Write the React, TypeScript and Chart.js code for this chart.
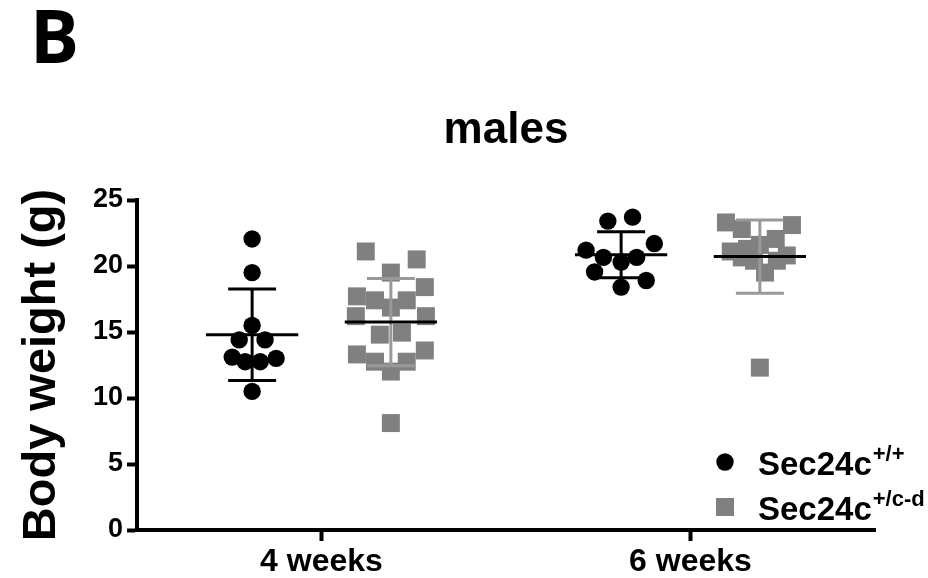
import React, { useEffect, useRef } from 'react';
import { Chart, registerables } from 'chart.js';

Chart.register(...registerables);

// ---------- data ----------
const categories = ['4 weeks', '6 weeks'];
const seriesNames = ['Sec24c', 'Sec24c'];
const seriesSup = ['+/+', '+/c-d'];
const yTickValues = [0, 5, 10, 15, 20, 25];

// Sec24c +/+ , 4 weeks
const wt4w = [22.05, 19.5, 15.5, 14.4, 14.4, 13.1, 12.75, 12.75, 13.0, 10.5];
const wt4wJitter = [0, 0, 0, -0.035, 0.035, -0.054, -0.019, 0.022, 0.065, 0];
// Sec24c +/c-d , 4 weeks
const het4w = [21.1, 20.5, 19.5, 17.7, 18.4, 17.4, 17.4, 16.85, 16.2, 16.2, 14.8, 14.95, 13.3, 13.6, 12.75, 12.75, 12.0, 8.1];
const het4wJitter = [-0.068, 0.07, 0, -0.092, 0.092, -0.043, 0.043, 0, -0.095, 0.095, -0.03, 0.03, -0.092, 0.092, -0.043, 0.043, 0, 0];
// Sec24c +/+ , 6 weeks
const wt6w = [23.4, 23.7, 21.2, 21.7, 20.65, 20.3, 20.65, 19.55, 18.9, 18.4];
const wt6wJitter = [-0.036, 0.031, -0.095, 0.09, -0.048, 0, 0.042, -0.072, 0.068, 0];
// Sec24c +/c-d , 6 weeks
const het6w = [23.3, 23.1, 22.8, 22.05, 21.6, 21.1, 21.3, 20.8, 20.65, 20.4, 20.4, 19.5, 12.3];
const het6wJitter = [-0.092, 0.087, -0.049, 0.043, 0, -0.079, -0.035, 0.073, -0.049, -0.016, 0.046, 0.014, 0];

// ---------- styling ----------
const FONT = '"Liberation Sans", Arial, Helvetica, sans-serif';
const BLACK = '#000000';
const GREY = '#808080';
const GREY_BAR = '#999999';
const GROUP_OFFSET = 0.188;
const MEAN_HALF = 0.125;
const CAP_HALF = 0.065;

type Group = { cat: number; side: number; values: number[]; jitter: number[]; barColor: string };

const wtGroups: Group[] = [
  { cat: 1, side: -1, values: wt4w, jitter: wt4wJitter, barColor: BLACK },
  { cat: 2, side: -1, values: wt6w, jitter: wt6wJitter, barColor: BLACK },
];
const hetGroups: Group[] = [
  { cat: 1, side: 1, values: het4w, jitter: het4wJitter, barColor: GREY_BAR },
  { cat: 2, side: 1, values: het6w, jitter: het6wJitter, barColor: GREY_BAR },
];

const toPoints = (gs: Group[]) =>
  gs.flatMap((g) => g.values.map((v, i) => ({ x: g.cat + g.side * GROUP_OFFSET + g.jitter[i], y: v })));

const mean = (a: number[]) => a.reduce((s, v) => s + v, 0) / a.length;
const sd = (a: number[]) => {
  const m = mean(a);
  return Math.sqrt(a.reduce((s, v) => s + (v - m) * (v - m), 0) / (a.length - 1));
};

const overlayPlugin = {
  id: 'overlay',
  afterDatasetsDraw(chart: any) {
    const { ctx, scales } = chart;
    const x = scales.x;
    const y = scales.y;
    ctx.save();
    ctx.lineCap = 'butt';
    [...wtGroups, ...hetGroups].forEach((g) => {
      const c = g.cat + g.side * GROUP_OFFSET;
      const m = mean(g.values);
      const s = sd(g.values);
      const cx = x.getPixelForValue(c);
      const yTop = y.getPixelForValue(m + s);
      const yBot = y.getPixelForValue(m - s);
      const capL = x.getPixelForValue(c - CAP_HALF);
      const capR = x.getPixelForValue(c + CAP_HALF);
      ctx.strokeStyle = g.barColor;
      ctx.lineWidth = 3;
      ctx.beginPath();
      ctx.moveTo(cx, yTop);
      ctx.lineTo(cx, yBot);
      ctx.moveTo(capL, yTop);
      ctx.lineTo(capR, yTop);
      ctx.moveTo(capL, yBot);
      ctx.lineTo(capR, yBot);
      ctx.stroke();
      const ym = y.getPixelForValue(m);
      ctx.strokeStyle = BLACK;
      ctx.lineWidth = 3;
      ctx.beginPath();
      ctx.moveTo(x.getPixelForValue(c - MEAN_HALF), ym);
      ctx.lineTo(x.getPixelForValue(c + MEAN_HALF), ym);
      ctx.stroke();
    });
    ctx.restore();
  },
  afterDraw(chart: any) {
    const { ctx, chartArea } = chart;
    ctx.save();
    // panel letter
    ctx.fillStyle = BLACK;
    ctx.textAlign = 'left';
    ctx.textBaseline = 'alphabetic';
    ctx.font = `bold 73px "Open Sans", Lato, sans-serif`;
    ctx.fillText('B', 30, 63);
    // title
    ctx.textAlign = 'center';
    ctx.font = `bold 44px ${FONT}`;
    ctx.fillText('males', (chartArea.left + chartArea.right) / 2, 143);
    // legend
    const mx = chartArea.right - 150;
    const rows = [chartArea.bottom - 68, chartArea.bottom - 23];
    rows.forEach((ry, i) => {
      ctx.fillStyle = i === 0 ? BLACK : GREY;
      if (i === 0) {
        ctx.beginPath();
        ctx.arc(mx, ry, 8.7, 0, Math.PI * 2);
        ctx.fill();
      } else {
        ctx.fillRect(mx - 9, ry - 9, 18, 18);
      }
      ctx.fillStyle = BLACK;
      ctx.textAlign = 'left';
      ctx.font = `bold 33px ${FONT}`;
      const tx = mx + 33;
      const by = ry + 13;
      ctx.fillText(seriesNames[i], tx, by);
      const w = ctx.measureText(seriesNames[i]).width;
      ctx.font = `bold 22px ${FONT}`;
      ctx.fillText(seriesSup[i], tx + w + 1, by - 14);
    });
    ctx.restore();
  },
};

export default function App() {
  const ref = useRef<HTMLCanvasElement | null>(null);
  useEffect(() => {
    if (!ref.current) return;
    const chart = new Chart(ref.current, {
      type: 'scatter',
      data: {
        datasets: [
          {
            label: seriesNames[0] + seriesSup[0],
            data: toPoints(wtGroups),
            pointStyle: 'circle',
            pointRadius: 8.7,
            pointBorderWidth: 0,
            backgroundColor: BLACK,
            borderColor: BLACK,
          },
          {
            label: seriesNames[1] + seriesSup[1],
            data: toPoints(hetGroups),
            pointStyle: 'rect',
            pointRadius: 12.7,
            pointBorderWidth: 0,
            backgroundColor: GREY,
            borderColor: GREY,
          },
        ],
      },
      options: {
        animation: false,
        responsive: false,
        devicePixelRatio: 1,
        layout: { padding: { top: 200, right: 53, left: 0, bottom: 0 } },
        plugins: { legend: { display: false }, tooltip: { enabled: false }, title: { display: false } },
        scales: {
          x: {
            type: 'linear',
            min: 0.5,
            max: 2.5,
            afterBuildTicks: (s: any) => {
              s.ticks = categories.map((_, i) => ({ value: i + 1 }));
            },
            afterFit: (s: any) => {
              s.height = 48;
            },
            ticks: {
              callback: (_v: any, i: number) => categories[i],
              font: { family: FONT, size: 32, weight: 'bold' },
              color: BLACK,
              padding: 2,
              autoSkip: false,
              maxRotation: 0,
            },
            grid: { drawOnChartArea: false, drawTicks: true, tickLength: 11, tickWidth: 4, tickColor: BLACK },
            border: { display: true, color: BLACK, width: 4 },
          },
          y: {
            type: 'linear',
            min: 0,
            max: 25,
            afterBuildTicks: (s: any) => {
              s.ticks = yTickValues.map((v) => ({ value: v }));
            },
            afterFit: (s: any) => {
              s.width = 137;
            },
            ticks: {
              font: { family: FONT, size: 27, weight: 'bold' },
              color: BLACK,
              padding: 4,
            },
            grid: { drawOnChartArea: false, drawTicks: true, tickLength: 10, tickWidth: 4, tickColor: BLACK },
            border: { display: true, color: BLACK, width: 4 },
            title: {
              display: true,
              text: 'Body weight (g)',
              font: { family: FONT, size: 47, weight: 'bold' },
              color: BLACK,
              padding: { top: 14, bottom: 0 },
            },
          },
        },
      },
      plugins: [overlayPlugin],
    });
    return () => chart.destroy();
  }, []);
  return (
    <div style={{ position: 'absolute', left: 0, top: 0, width: 928, height: 578, background: '#fff' }}>
      <canvas ref={ref} width={928} height={578} style={{ width: 928, height: 578, display: 'block' }} />
    </div>
  );
}
